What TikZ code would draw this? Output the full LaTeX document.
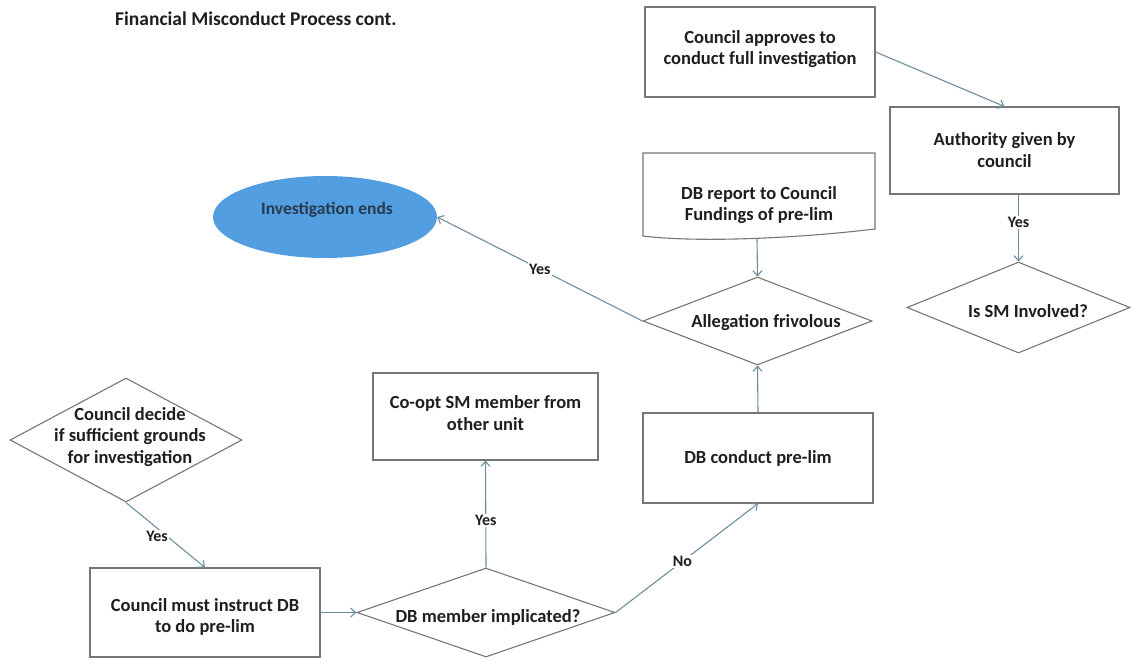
\documentclass[tikz,border=0pt]{standalone}
\usepackage{fontspec}
\setmainfont{Carlito}
\usetikzlibrary{shapes.geometric,arrows.meta}
\definecolor{linegray}{RGB}{118,118,118}
\definecolor{arrowc}{RGB}{108,142,156}
\definecolor{ovalblue}{RGB}{82,158,224}
\definecolor{txtc}{RGB}{30,30,30}
\definecolor{ovaltxt}{RGB}{40,58,78}
\begin{document}
\begin{tikzpicture}[x=1pt,y=-1pt,
  stepbox/.style={draw=linegray,line width=1.1pt,rectangle,inner sep=0pt,align=center,text=txtc,
    font=\fontsize{18.5}{22}\selectfont\bfseries},
  dia/.style={draw=linegray,line width=1.1pt,diamond,inner sep=0pt},
  txt/.style={align=center,text=txtc,inner sep=0pt,font=\fontsize{18.5}{21.5}\selectfont\bfseries},
  lbl/.style={fill=white,inner sep=1.5pt,text=txtc,font=\fontsize{16}{18}\selectfont\bfseries},
  arr/.style={draw=arrowc,line width=1.1pt,-{Straight Barb[length=5pt,width=9pt]}}]
\useasboundingbox (0,0) rectangle (1131,662);

% title
\node[anchor=base west,inner sep=0pt,text=txtc,font=\fontsize{19.5}{22}\selectfont\bfseries] (title) at (115,25) {Financial Misconduct Process cont.};

% boxes
\node[stepbox,minimum width=230pt,minimum height=90pt] (approve) at (760,52) {};
\node[txt] (approvet) at (760,49) {Council approves to\\conduct full investigation};
\node[stepbox,minimum width=229pt,minimum height=87pt] (authority) at (1004.5,150.5) {Authority given by\\council};
\node[stepbox,minimum width=225pt,minimum height=87pt] (coopt) at (485.5,416.5) {};
\node[txt] (coopts) at (485.5,413) {Co-opt SM member from\\other unit};
\node[stepbox,minimum width=230pt,minimum height=90pt] (conduct) at (758,458) {DB conduct pre-lim};
\node[stepbox,minimum width=230pt,minimum height=89pt] (instruct) at (205,612.5) {};
\node[txt] (instructt) at (205,617) {Council must instruct DB\\to do pre-lim};

% document shape
\draw[linegray,line width=1.1pt] (643,153) -- (875,153) -- (875,229)
  .. controls (800,238) and (700,243) .. (643,236) -- cycle;
\node[txt] (doc) at (759,205) {DB report to Council\\Fundings of pre-lim};
\coordinate (docb) at (757,239);

% diamonds
\node[dia,minimum width=232pt,minimum height=124pt] (decide) at (126,440) {};
\node[txt] (decidet) at (130,437) {Council decide\\if sufficient grounds\\for investigation};
\node[dia,minimum width=258pt,minimum height=89pt] (dbm) at (486,612.5) {};
\node[txt] (dbmt) at (488,617) {DB member implicated?};
\node[dia,minimum width=229pt,minimum height=88pt] (alleg) at (757.5,321) {};
\node[txt] (allegt) at (766,323) {Allegation frivolous};
\node[dia,minimum width=223pt,minimum height=91pt] (ism) at (1018.5,307.5) {};
\node[txt] (ismt) at (1028,311) {Is SM Involved?};

% terminal
\node[ellipse,fill=ovalblue,draw=none,minimum width=224pt,minimum height=82pt,inner sep=0pt] (ends) at (325,217) {};
\node[txt,text=ovaltxt,font=\fontsize{17.5}{20}\selectfont\bfseries] (endst) at (327,210) {Investigation ends};

% connectors
\draw[arr] (decide.south) -- node[lbl,pos=0.52,xshift=-10pt]{Yes} (instruct.north);
\draw[arr] (instruct.east) -- (dbm.west);
\draw[arr] (dbm.north) -- node[lbl,pos=0.44]{Yes} (coopt.south);
\draw[arr] (dbm.east) -- node[lbl,pos=0.47]{No} (conduct.south);
\draw[arr] (conduct.north) -- (alleg.south);
\draw[arr] (docb) -- (alleg.north);
\draw[arr] (alleg.west) -- node[lbl,pos=0.5]{Yes} (ends.east);
\draw[arr] (approve.east) -- (authority.north);
\draw[arr] (ism.north |- authority.south) -- node[lbl,pos=0.42]{Yes} (ism.north);
\end{tikzpicture}
\end{document}
